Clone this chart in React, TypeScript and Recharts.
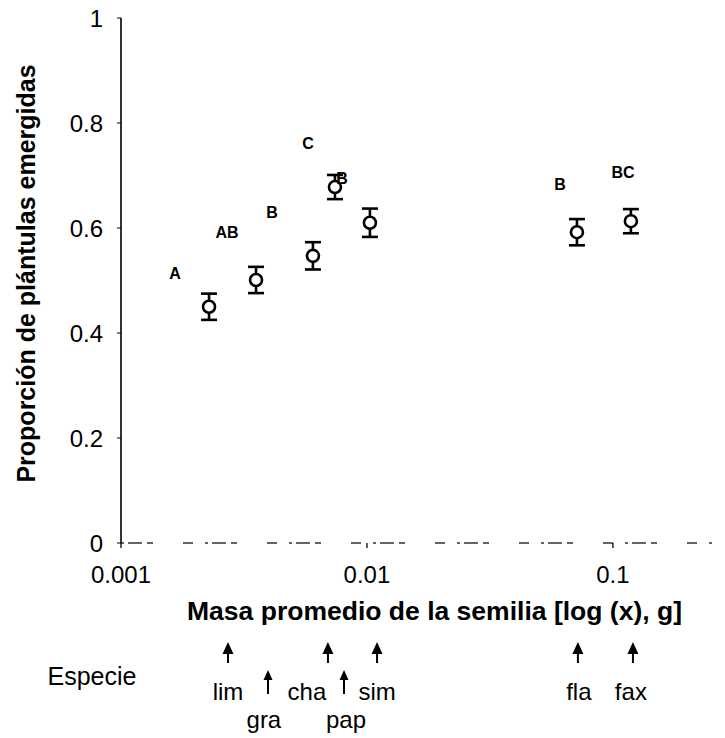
import React from 'react';
import { ScatterChart, Scatter, XAxis, YAxis, ErrorBar, Label } from 'recharts';

// ---- data ----
const species = ['lim', 'gra', 'cha', 'pap', 'sim', 'fla', 'fax'];
const seedMass = [0.00228, 0.00354, 0.00603, 0.00741, 0.01028, 0.0714, 0.1183];
const emergence = [0.45, 0.501, 0.547, 0.678, 0.61, 0.592, 0.613];
const emergenceSE = [0.025, 0.025, 0.026, 0.023, 0.027, 0.025, 0.023];

// significance letters and where they sit (data units)
const groupLetters = ['A', 'AB', 'B', 'C', 'B', 'B', 'BC'];
const letterMass = [0.001658, 0.002698, 0.004111, 0.005754, 0.00791, 0.06092, 0.1099];
const letterHeight = [0.514, 0.592, 0.63, 0.762, 0.695, 0.684, 0.705];

// species arrows under the x axis (data units on the mass axis)
const arrowMass = [0.002723, 0.00396, 0.00694, 0.008067, 0.01099, 0.07204, 0.1206];
const nameMass = [0.002723, 0.00381, 0.005702, 0.00822, 0.01099, 0.0727, 0.1183];
const nameRow = [0, 1, 0, 1, 0, 0, 0];

const xTicks = [0.001, 0.01, 0.1];
const yTicks = [0, 0.2, 0.4, 0.6, 0.8, 1];
const xDomain = [0.001, 0.26];

const FONT = '"Liberation Sans", Arial, Helvetica, sans-serif';

const points = species.map((s, i) => ({ name: s, mass: seedMass[i], p: emergence[i], se: emergenceSE[i] }));
const letters = groupLetters.map((l, i) => ({ letter: l, mass: letterMass[i], p: letterHeight[i] }));

function Marker(props: any) {
  const { cx, cy } = props;
  return <circle cx={cx} cy={cy} r={6} fill="#fff" stroke="#000" strokeWidth={2.6} />;
}

function LetterShape(props: any) {
  const { cx, cy, payload } = props;
  return (
    <text x={cx} y={cy} dy="0.35em" textAnchor="middle" fontSize={16} fontWeight="bold" fontFamily={FONT} fill="#000">
      {payload.letter}
    </text>
  );
}

function ArrowTick(props: any) {
  const { x, y, payload } = props;
  let i = arrowMass.findIndex((v) => Math.abs(v - payload.value) < 1e-9);
  if (i < 0) i = 0;
  const row = nameRow[i];
  const tip = y + (row ? 32 : 4);
  const tail = y + (row ? 56 : 25);
  const hw = row ? 4.5 : 5.5;
  const hh = row ? 10 : 12;
  return (
    <g>
      <line x1={x} y1={tip + hh - 1} x2={x} y2={tail} stroke="#000" strokeWidth={2} />
      <polygon points={`${x},${tip} ${x - hw},${tip + hh} ${x + hw},${tip + hh}`} fill="#000" />
    </g>
  );
}

function NameTick(props: any) {
  const { x, y, payload } = props;
  let i = nameMass.findIndex((v) => Math.abs(v - payload.value) < 1e-9);
  if (i < 0) i = 0;
  const row = nameRow[i];
  return (
    <text x={x} y={y + (row ? 30 : 2)} textAnchor="middle" fontSize={24} fontFamily={FONT} fill="#000">
      {species[i]}
    </text>
  );
}

function XTitle(props: any) {
  const vb = props.viewBox || { x: 121, y: 543 };
  return (
    <text
      x={vb.x + 313.5}
      y={vb.y + 77}
      textAnchor="middle"
      fontSize={26}
      fontWeight="bold"
      fontFamily={FONT}
      fill="#000"
      textLength={495}
      lengthAdjust="spacingAndGlyphs"
    >
      Masa promedio de la semilia [log (x), g]
    </text>
  );
}

function EspecieTitle(props: any) {
  const vb = props.viewBox || { x: 121, y: 638 };
  return (
    <text x={vb.x - 29} y={vb.y + 47} textAnchor="middle" fontSize={25} fontFamily={FONT} fill="#000">
      Especie
    </text>
  );
}

function YTitle(props: any) {
  const vb = props.viewBox || { x: 0, y: 18 };
  const x = vb.x + 35;
  const y = vb.y + 255.5;
  return (
    <text
      x={x}
      y={y}
      transform={`rotate(-90 ${x} ${y})`}
      textAnchor="middle"
      fontSize={25}
      fontWeight="bold"
      fontFamily={FONT}
      fill="#000"
    >
      Proporción de plántulas emergidas
    </text>
  );
}

export default function App() {
  return (
    <div style={{ width: 725, height: 738, margin: '-8px 0 0 -8px' }}>
      <ScatterChart width={725} height={738} margin={{ top: 18, right: 10, bottom: 0, left: 0 }}>
        <XAxis
          xAxisId="a_main"
          dataKey="mass"
          type="number"
          scale="log"
          domain={xDomain}
          allowDataOverflow
          ticks={xTicks}
          interval={0}
          tickFormatter={(v: number) => String(v)}
          height={95}
          tickSize={5}
          tickMargin={18}
          stroke="#333"
          axisLine={{ stroke: '#333', strokeWidth: 1.3, strokeDasharray: '3 4 14 5 6 30 10 12' }}
          tickLine={{ stroke: '#000', strokeWidth: 1.3 }}
          tick={{ fill: '#000', fontSize: 24, fontFamily: FONT }}
        >
          <Label content={XTitle} />
        </XAxis>
        <XAxis
          xAxisId="b_sp"
          dataKey="mass"
          type="number"
          scale="log"
          domain={xDomain}
          allowDataOverflow
          ticks={arrowMass}
          interval={0}
          height={60}
          tickSize={0}
          tickMargin={0}
          axisLine={false}
          tickLine={false}
          tick={ArrowTick}
        >
          <Label content={EspecieTitle} />
        </XAxis>
        <XAxis
          xAxisId="c_lbl"
          dataKey="mass"
          type="number"
          scale="log"
          domain={xDomain}
          allowDataOverflow
          ticks={nameMass}
          interval={0}
          height={40}
          tickSize={0}
          tickMargin={0}
          axisLine={false}
          tickLine={false}
          tick={NameTick}
        />
        <YAxis
          dataKey="p"
          type="number"
          domain={[0, 1]}
          ticks={yTicks}
          interval={0}
          width={121}
          tickSize={4}
          tickMargin={14}
          tickFormatter={(v: number) => String(v)}
          axisLine={{ stroke: '#000', strokeWidth: 1.6 }}
          tickLine={{ stroke: '#000', strokeWidth: 1 }}
          tick={{ fill: '#000', fontSize: 24, fontFamily: FONT }}
        >
          <Label content={YTitle} />
        </YAxis>
        <Scatter xAxisId="a_main" data={points} shape={Marker} isAnimationActive={false}>
          <ErrorBar dataKey="se" direction="y" width={8} stroke="#000" strokeWidth={2.6} />
        </Scatter>
        <Scatter xAxisId="a_main" data={letters} shape={LetterShape} isAnimationActive={false} />
      </ScatterChart>
    </div>
  );
}
